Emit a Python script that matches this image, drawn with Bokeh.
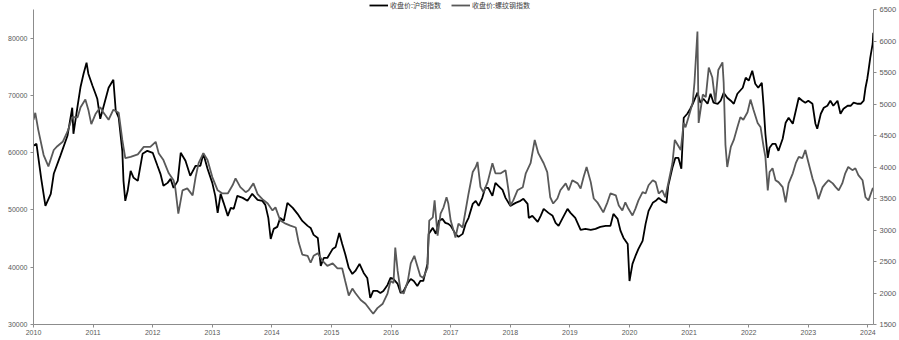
from bokeh.plotting import figure
from bokeh.models import Range1d, LinearAxis, FixedTicker, Legend, LegendItem
from bokeh.embed import file_html
from bokeh.resources import INLINE

# 收盘价:沪铜指数 (left axis)
cu_t = [2010.00, 2010.05, 2010.13, 2010.20, 2010.29, 2010.34, 2010.45, 2010.57, 2010.65, 2010.67,
        2010.74, 2010.79, 2010.84, 2010.89, 2010.92, 2010.99, 2011.04, 2011.07, 2011.12, 2011.17,
        2011.26, 2011.34, 2011.38, 2011.43, 2011.49, 2011.51, 2011.54, 2011.58, 2011.63, 2011.68,
        2011.75, 2011.83, 2011.91, 2012.00, 2012.08, 2012.13, 2012.18, 2012.25, 2012.30, 2012.35,
        2012.42, 2012.47, 2012.55, 2012.63, 2012.72, 2012.80, 2012.85, 2012.92, 2013.00, 2013.05,
        2013.09, 2013.14, 2013.19, 2013.26, 2013.31, 2013.36, 2013.42, 2013.51, 2013.59, 2013.67,
        2013.76, 2013.84, 2013.89, 2013.94, 2013.98, 2014.03, 2014.09, 2014.14, 2014.20, 2014.26,
        2014.35, 2014.43, 2014.51, 2014.60, 2014.65, 2014.70, 2014.77, 2014.82, 2014.87, 2014.93,
        2015.02, 2015.07, 2015.13, 2015.18, 2015.23, 2015.29, 2015.35, 2015.40, 2015.47, 2015.54,
        2015.60, 2015.65, 2015.70, 2015.77, 2015.82, 2015.87, 2015.94, 2015.99, 2016.04, 2016.11,
        2016.16, 2016.21, 2016.28, 2016.33, 2016.38, 2016.44, 2016.49, 2016.54, 2016.61, 2016.63,
        2016.70, 2016.75, 2016.80, 2016.86, 2016.91, 2016.96, 2017.00, 2017.08, 2017.13, 2017.20,
        2017.25, 2017.30, 2017.37, 2017.42, 2017.47, 2017.53, 2017.58, 2017.63, 2017.70, 2017.75,
        2017.80, 2017.87, 2017.92, 2018.00, 2018.09, 2018.17, 2018.22, 2018.29, 2018.31, 2018.37,
        2018.46, 2018.51, 2018.56, 2018.64, 2018.71, 2018.76, 2018.81, 2018.88, 2018.96, 2019.01,
        2019.09, 2019.18, 2019.26, 2019.35, 2019.43, 2019.51, 2019.60, 2019.68, 2019.73, 2019.80,
        2019.85, 2019.90, 2019.97, 2020.00, 2020.05, 2020.10, 2020.15, 2020.22, 2020.27, 2020.32,
        2020.39, 2020.44, 2020.49, 2020.55, 2020.62, 2020.65, 2020.72, 2020.77, 2020.82, 2020.87,
        2020.91, 2020.97, 2021.02, 2021.07, 2021.14, 2021.19, 2021.24, 2021.31, 2021.36, 2021.41,
        2021.48, 2021.53, 2021.58, 2021.64, 2021.70, 2021.75, 2021.81, 2021.90, 2021.95, 2022.00,
        2022.06, 2022.11, 2022.16, 2022.22, 2022.25, 2022.28, 2022.32, 2022.35, 2022.40, 2022.45,
        2022.50, 2022.57, 2022.62, 2022.67, 2022.74, 2022.79, 2022.84, 2022.90, 2022.95, 2023.00,
        2023.07, 2023.12, 2023.15, 2023.21, 2023.26, 2023.32, 2023.37, 2023.42, 2023.49, 2023.54,
        2023.59, 2023.66, 2023.71, 2023.76, 2023.83, 2023.88, 2023.93, 2023.96, 2023.99, 2024.01,
        2024.04, 2024.08, 2024.09]
cu_v = [61200, 61550, 55430, 50710, 52810, 56310, 59450, 62950, 67840, 63300,
        68190, 71520, 73790, 75710, 73790, 71690, 70290, 69420, 65920, 67840,
        71340, 72740, 67320, 66100, 60330, 55080, 51590, 53340, 56830, 55610,
        55080, 59800, 60330, 59980, 57710, 56310, 54210, 54730, 55430, 53860,
        55080, 59980, 58580, 55960, 57710, 57710, 59800, 57180, 54730, 52460,
        49490, 52810, 51240, 48970, 50360, 50190, 52460, 52110, 51590, 52810,
        51760, 51590, 50890, 48620, 44950, 46690, 47040, 48620, 48090, 51240,
        50360, 49320, 48090, 47220, 46870, 45650, 45120, 40230, 41620, 41620,
        43200, 43550, 45990, 44070, 42320, 39880, 38830, 39350, 40580, 39000,
        38130, 34630, 35860, 35860, 35510, 35860, 36910, 38130, 37950, 37080,
        35510, 35860, 37250, 37950, 37600, 36730, 37600, 37600, 40580, 45820,
        46870, 45820, 48090, 48440, 47740, 47570, 47220, 45820, 45300, 45820,
        47570, 48620, 51060, 51590, 50710, 52110, 53860, 53860, 52460, 54730,
        54210, 53510, 52110, 50710, 51240, 51590, 51940, 51060, 48620, 48970,
        47920, 48970, 50190, 49490, 48970, 47740, 47220, 48620, 50190, 49490,
        48620, 46520, 46690, 46520, 46690, 47040, 47220, 47220, 49320, 48440,
        46340, 45120, 44070, 37600, 40580, 41970, 43200, 44600, 47570, 49840,
        51240, 51590, 52110, 51590, 51240, 54210, 57360, 59100, 59100, 57180,
        66100, 66800, 67670, 68720, 70470, 68720, 69420, 68540, 70290, 68720,
        68540, 69070, 70470, 69590, 69070, 68540, 70290, 71340, 73090, 72560,
        74310, 72040, 71340, 72210, 68190, 63300, 59100, 60850, 61550, 61550,
        60330, 62430, 65220, 66100, 65050, 67320, 69590, 69070, 68720, 69070,
        68540, 65050, 64170, 66800, 67840, 68190, 69070, 68190, 69070, 66800,
        67670, 68190, 68190, 68720, 68540, 68540, 69070, 71340, 72910, 74310,
        76580, 79030, 80950]

# 收盘价:螺纹钢指数 (right axis)
rb_t = [2010.00, 2010.03, 2010.08, 2010.17, 2010.25, 2010.34, 2010.40, 2010.49, 2010.57, 2010.65,
        2010.74, 2010.79, 2010.87, 2010.92, 2010.97, 2011.04, 2011.12, 2011.17, 2011.26, 2011.34,
        2011.43, 2011.49, 2011.54, 2011.63, 2011.75, 2011.85, 2011.96, 2012.05, 2012.10, 2012.18,
        2012.27, 2012.35, 2012.38, 2012.43, 2012.50, 2012.58, 2012.67, 2012.72, 2012.77, 2012.85,
        2012.92, 2013.00, 2013.09, 2013.17, 2013.26, 2013.34, 2013.39, 2013.47, 2013.56, 2013.61,
        2013.69, 2013.76, 2013.84, 2013.93, 2014.01, 2014.06, 2014.14, 2014.23, 2014.31, 2014.40,
        2014.45, 2014.51, 2014.60, 2014.65, 2014.70, 2014.77, 2014.85, 2014.93, 2015.02, 2015.10,
        2015.18, 2015.23, 2015.29, 2015.35, 2015.40, 2015.49, 2015.57, 2015.65, 2015.70, 2015.77,
        2015.86, 2015.94, 2015.99, 2016.04, 2016.07, 2016.11, 2016.16, 2016.21, 2016.28, 2016.33,
        2016.39, 2016.44, 2016.49, 2016.54, 2016.61, 2016.64, 2016.70, 2016.73, 2016.78, 2016.83,
        2016.88, 2016.93, 2016.96, 2017.00, 2017.05, 2017.08, 2017.13, 2017.20, 2017.25, 2017.30,
        2017.37, 2017.42, 2017.45, 2017.50, 2017.55, 2017.62, 2017.70, 2017.75, 2017.84, 2017.92,
        2017.97, 2018.00, 2018.05, 2018.12, 2018.21, 2018.26, 2018.34, 2018.41, 2018.47, 2018.56,
        2018.62, 2018.67, 2018.72, 2018.79, 2018.84, 2018.93, 2018.98, 2019.04, 2019.13, 2019.18,
        2019.23, 2019.28, 2019.35, 2019.40, 2019.46, 2019.51, 2019.56, 2019.63, 2019.68, 2019.77,
        2019.82, 2019.88, 2019.93, 2019.98, 2020.05, 2020.10, 2020.15, 2020.22, 2020.27, 2020.32,
        2020.39, 2020.44, 2020.49, 2020.55, 2020.60, 2020.65, 2020.72, 2020.76, 2020.81, 2020.86,
        2020.91, 2020.94, 2020.99, 2021.06, 2021.09, 2021.14, 2021.16, 2021.23, 2021.28, 2021.33,
        2021.39, 2021.44, 2021.49, 2021.56, 2021.58, 2021.61, 2021.64, 2021.70, 2021.75, 2021.81,
        2021.86, 2021.91, 2021.98, 2022.03, 2022.08, 2022.15, 2022.20, 2022.25, 2022.28, 2022.32,
        2022.35, 2022.40, 2022.45, 2022.50, 2022.57, 2022.62, 2022.67, 2022.74, 2022.79, 2022.84,
        2022.90, 2022.95, 2023.00, 2023.07, 2023.12, 2023.17, 2023.24, 2023.29, 2023.34, 2023.41,
        2023.46, 2023.51, 2023.57, 2023.62, 2023.67, 2023.74, 2023.79, 2023.84, 2023.91, 2023.96,
        2024.01, 2024.08, 2024.09]
rb_v = [4750, 4860, 4590, 4190, 4010, 4270, 4330, 4400, 4560, 4790,
        4790, 4950, 5070, 4910, 4680, 4840, 4950, 4870, 4750, 4910,
        4860, 4430, 4140, 4160, 4200, 4320, 4320, 4400, 4220, 4110,
        3900, 3790, 3660, 3260, 3630, 3660, 3550, 3840, 4060, 4220,
        4110, 3840, 3630, 3580, 3580, 3710, 3820, 3680, 3600, 3630,
        3740, 3570, 3490, 3420, 3310, 3360, 3150, 3100, 3070, 3040,
        2800, 2610, 2590, 2480, 2590, 2630, 2510, 2430, 2470, 2390,
        2390, 2190, 1960, 2070, 2000, 1890, 1830, 1730, 1670, 1760,
        1830, 1990, 2190, 2160, 2720, 2350, 2030, 1990, 2190, 2470,
        2590, 2430, 2270, 2240, 2400, 3150, 3200, 3470, 2910, 3260,
        3360, 3520, 3420, 3150, 2990, 2880, 3100, 3040, 3310, 3580,
        3920, 4000, 4080, 3680, 3600, 3760, 4060, 3900, 3900, 3950,
        3630, 3390, 3470, 3630, 3680, 3900, 4060, 4430, 4220, 4060,
        3920, 3520, 3420, 3500, 3630, 3740, 3630, 3790, 3740, 3660,
        3840, 4000, 3760, 3500, 3440, 3360, 3280, 3440, 3580, 3550,
        3390, 3310, 3440, 3340, 3230, 3340, 3470, 3600, 3580, 3710,
        3790, 3760, 3580, 3630, 3520, 3740, 4060, 4430, 4350, 4270,
        4700, 4630, 4790, 5020, 5340, 6150, 4700, 5150, 5110, 5580,
        5420, 5030, 5540, 5660, 5340, 4350, 4000, 4320, 4430, 4630,
        4790, 4750, 4870, 5070, 4910, 4700, 4630, 4320, 4160, 3630,
        3920, 3980, 3790, 3760, 3680, 3440, 3740, 3900, 4060, 4160,
        4140, 4270, 4080, 3820, 3680, 3490, 3680, 3740, 3790, 3740,
        3680, 3630, 3740, 3900, 4000, 3950, 3980, 3870, 3790, 3520,
        3470, 3660, 3660]

years = list(range(2010, 2025))
left_ticks = [30000, 40000, 50000, 60000, 70000, 80000]
right_ticks = [1500, 2000, 2500, 3000, 3500, 4000, 4500, 5000, 5500, 6000, 6500]
left_bounds = (30000, 85000)
right_bounds = (1500, 6500)

AXIS_COLOR = "#8c8c8c"
LABEL_COLOR = "#595959"
FONT = "Liberation Sans"

# the frame reaches the top of the canvas so the legend (above the axes' top) is not clipped;
# the ranges get a small headroom and the axis lines stop at the axis maxima.
p = figure(width=899, height=340, output_backend="svg", toolbar_location=None,
           x_range=Range1d(2010, 2024.094), y_range=Range1d(30000, 86570),
           min_border_left=33, min_border_right=26, min_border_top=0, min_border_bottom=16,
           background_fill_color="white", border_fill_color="white")
p.outline_line_color = None
p.grid.visible = False
p.extra_y_ranges = {"rebar": Range1d(1500, 6643)}

right_axis = LinearAxis(y_range_name="rebar", ticker=FixedTicker(ticks=right_ticks),
                        bounds=right_bounds)
p.add_layout(right_axis, "right")

p.xaxis.ticker = FixedTicker(ticks=years)
p.yaxis[0].ticker = FixedTicker(ticks=left_ticks)
p.yaxis[0].bounds = left_bounds

for ax in [p.xaxis[0], p.yaxis[0], right_axis]:
    ax.axis_line_color = AXIS_COLOR
    ax.axis_line_width = 1
    ax.major_tick_line_color = AXIS_COLOR
    ax.major_tick_out = 3
    ax.major_tick_in = 0
    ax.minor_tick_line_color = None
    ax.major_label_text_color = LABEL_COLOR
    ax.major_label_text_font = FONT
    ax.major_label_text_font_size = "7px"
    ax.major_label_standoff = 3
right_axis.major_label_text_font_size = "7.5px"
p.xaxis[0].major_label_standoff = 2

cu = p.line(cu_t, cu_v, line_color="#000000", line_width=1.8)
rb = p.line(rb_t, rb_v, line_color="#595959", line_width=1.8, y_range_name="rebar")

legend = Legend(items=[LegendItem(label="收盘价:沪铜指数", renderers=[cu]),
                       LegendItem(label="收盘价:螺纹钢指数", renderers=[rb])],
                orientation="horizontal", location=(336, 314),
                label_text_font="Noto Sans CJK SC", label_text_font_size="7px",
                label_text_color="#404040", glyph_width=19, glyph_height=8,
                label_height=8, label_standoff=2, spacing=10, padding=0, margin=0,
                border_line_color=None, background_fill_alpha=0)
p.add_layout(legend, "center")

open("out.html", "w").write(file_html(p, INLINE))
